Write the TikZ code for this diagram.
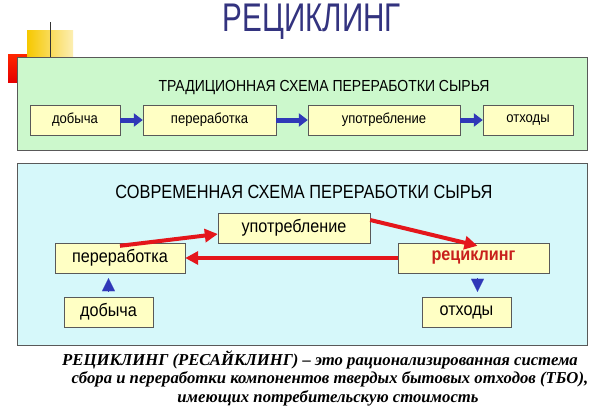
\documentclass[tikz,border=0pt]{standalone}
\usepackage{fontspec}
\setmainfont{Liberation Sans}
\newfontfamily\boxfont[FakeStretch=0.9]{Liberation Sans}
\newfontfamily\defnfont{Liberation Serif}
\usetikzlibrary{arrows.meta}
\definecolor{titleblue}{HTML}{33337F}
\definecolor{panelgreen}{HTML}{CCF8CC}
\definecolor{panelcyan}{HTML}{D6F8FA}
\definecolor{boxyellow}{HTML}{FFFFC4}
\definecolor{arrowblue}{HTML}{3038B8}
\definecolor{arrowred}{HTML}{E4161B}
\definecolor{recred}{HTML}{C8201C}
\definecolor{gold}{HTML}{F6C800}

\begin{document}
\begin{tikzpicture}[x=1pt, y=-1pt,
		panel/.style={draw=gray!70!black, line width=0.8pt},
		box/.style={draw=gray!70!black, fill=boxyellow, inner sep=0pt,
			minimum height=30pt, font=\boxfont\fontsize{14.5}{16}\selectfont},
		bigbox/.style={box, font=\boxfont\fontsize{18}{20}\selectfont},
		bluearrow/.style={draw=arrowblue, line width=5pt,
			-{Triangle[length=9pt, width=13pt]}},
		redarrow/.style={draw=arrowred, line width=4pt,
			-{Triangle[length=13pt, width=13pt]}},
		tip/.style={draw=arrowblue, fill=arrowblue, line width=0.1pt,
			-{Triangle[length=13pt, width=13pt]}, shorten <=5pt, shorten >=5pt},
		defn/.style={font=\defnfont\bfseries\itshape\fontsize{16.7}{19}\selectfont}]
	\useasboundingbox (0,0) rectangle (598,408);
	\fill[white] (0,0) rectangle (598,408);
	% corner squares
	\shade[bottom color=red!90!black, top color=red!70!orange] (8,54) rectangle (40,82);
	\shade[left color=gold, right color=gold!30] (27,30) rectangle (73,57);
	\draw[black!80, line width=1pt] (50,22) -- (50,57);
	\node[text=titleblue, font=\fontsize{40}{42}\selectfont] (title) at (312,22)
		{\scalebox{0.74}[1]{РЕЦИКЛИНГ}};

	% traditional scheme
	\filldraw[panel, fill=panelgreen] (17,57) rectangle (587,150);
	\node[font=\fontsize{16}{18}\selectfont] (oldhead) at (324,88)
		{\scalebox{0.875}[1]{ТРАДИЦИОННАЯ СХЕМА ПЕРЕРАБОТКИ СЫРЬЯ}};
	\node[box, minimum width=90pt] (dob1) at (75,120) {добыча};
	\node[box, minimum width=133pt] (per1) at (209.5,120) {переработка};
	\node[box, minimum width=152pt] (upo1) at (384,120) {употребление};
	\node[box, minimum width=90pt] (otx1) at (528,120) {отходы};
	\draw[bluearrow] (dob1) -- (per1);
	\draw[bluearrow] (per1) -- (upo1);
	\draw[bluearrow] (upo1) -- (otx1);

	% modern scheme
	\filldraw[panel, fill=panelcyan] (17,163) rectangle (587,345);
	\node[font=\fontsize{19}{21}\selectfont] (newhead) at (304,192)
		{\scalebox{0.86}[1]{СОВРЕМЕННАЯ СХЕМА ПЕРЕРАБОТКИ СЫРЬЯ}};
	\node[bigbox, minimum width=152pt] (upo2) at (294,228) {употребление};
	\node[bigbox, minimum width=130pt] (per2) at (120,258) {переработка};
	\node[bigbox, minimum width=151pt, text=recred, font=\boxfont\bfseries\fontsize{18}{20}\selectfont]
		(rec2) at (473.5,258) {рециклинг};
	\node[bigbox, minimum width=89pt] (dob2) at (108.5,312) {добыча};
	\node[bigbox, minimum width=89pt] (otx2) at (466.5,312) {отходы};
	\draw[redarrow] ([yshift=-3pt]per2.north) -- ([yshift=-6pt]upo2.west);
	\draw[redarrow] (upo2.east |- 0,220) -- ([xshift=4pt, yshift=-3pt]rec2.north);
	\draw[redarrow] (rec2.west) -- (per2.east);
	\draw[tip] (dob2.north) -- (dob2.north |- per2.south);
	\draw[tip] ([xshift=4pt]rec2.south) -- ([xshift=4pt]rec2.south |- otx2.north);

	% definition
	\node[defn] (line1) at (320,360)
		{РЕЦИКЛИНГ (РЕСАЙКЛИНГ) – это рационализированная система};
	\node[defn] (line2) at (330,379)
		{сбора и переработки компонентов твердых бытовых отходов (ТБО),};
	\node[defn] (line3) at (328,398) {имеющих потребительскую стоимость};
\end{tikzpicture}
\end{document}
